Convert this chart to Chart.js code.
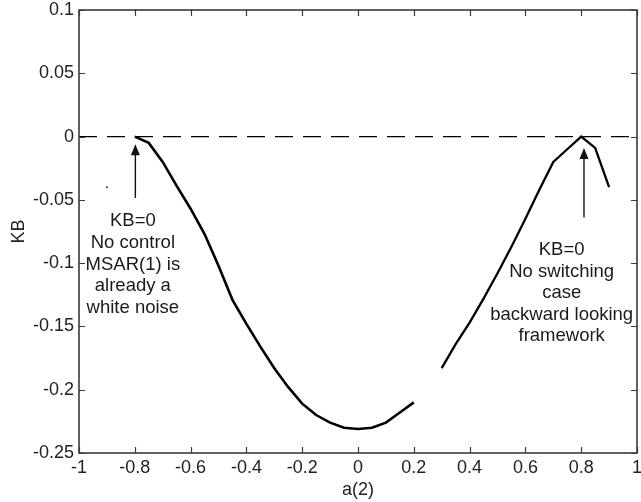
<!DOCTYPE html>
<html>
<head>
<meta charset="utf-8">
<script src="https://cdn.jsdelivr.net/npm/chart.js@4/dist/chart.umd.min.js"></script>
<style>
  html, body { margin: 0; padding: 0; background: #fff; }
  #wrap { width: 641px; height: 502px; }
</style>
</head>
<body>
<div id="wrap"><canvas id="kb"></canvas></div>
<script>
// KB as a function of a(2), computed on a 0.05 grid (no value between 0.2 and 0.3)
const leftA = [-0.8, -0.75, -0.7, -0.65, -0.6, -0.55, -0.5, -0.45, -0.4, -0.35, -0.3,
  -0.25, -0.2, -0.15, -0.1, -0.05, 0, 0.05, 0.1, 0.15, 0.2];
const leftKB = [0, -0.005, -0.020, -0.039, -0.057, -0.077, -0.102, -0.129, -0.148, -0.166, -0.183,
  -0.198, -0.211, -0.220, -0.226, -0.230, -0.231, -0.230, -0.226, -0.218, -0.210];
const rightA = [0.3, 0.35, 0.4, 0.45, 0.5, 0.55, 0.6, 0.65, 0.7, 0.75, 0.8, 0.85, 0.9];
const rightKB = [-0.183, -0.164, -0.147, -0.128, -0.108, -0.087, -0.065, -0.042, -0.020, -0.010, 0, -0.009, -0.040];
const strayA = [-0.9];
const strayKB = [-0.040];

const xTicks = [-1, -0.8, -0.6, -0.4, -0.2, 0, 0.2, 0.4, 0.6, 0.8, 1];
const yTicks = [0.1, 0.05, 0, -0.05, -0.1, -0.15, -0.2, -0.25];

const noteLeft = ['KB=0', 'No control', 'MSAR(1) is', 'already a', 'white noise'];
const noteRight = ['KB=0', 'No switching', 'case', 'backward looking', 'framework'];

const FONT = "'Liberation Sans', Arial, sans-serif";
const pts = (xs, ys) => xs.map((x, i) => ({x, y: ys[i]}));

// boxed axes with inward ticks, arrows and the two notes
const decor = {
  id: 'decor',
  afterDatasetsDraw(chart) {
    const {ctx, chartArea: a, scales: {x, y}} = chart;
    ctx.save();
    ctx.strokeStyle = '#3a3a3a';
    ctx.lineWidth = 1.6;
    ctx.strokeRect(a.left, a.top, a.right - a.left, a.bottom - a.top);
    ctx.lineWidth = 1.2;
    ctx.beginPath();
    xTicks.forEach(v => {
      const px = Math.round(x.getPixelForValue(v)) + 0.5;
      ctx.moveTo(px, a.bottom); ctx.lineTo(px, a.bottom - 6);
      ctx.moveTo(px, a.top); ctx.lineTo(px, a.top + 6);
    });
    yTicks.forEach(v => {
      const py = Math.round(y.getPixelForValue(v)) + 0.5;
      ctx.moveTo(a.left, py); ctx.lineTo(a.left + 6, py);
      ctx.moveTo(a.right, py); ctx.lineTo(a.right - 6, py);
    });
    ctx.stroke();

    const arrow = (xv, fromY, toY) => {
      const px = x.getPixelForValue(xv);
      const p0 = y.getPixelForValue(fromY), p1 = y.getPixelForValue(toY);
      ctx.strokeStyle = '#111';
      ctx.fillStyle = '#111';
      ctx.lineWidth = 1.4;
      ctx.beginPath();
      ctx.moveTo(px, p0); ctx.lineTo(px, p1 + 8);
      ctx.stroke();
      ctx.beginPath();
      ctx.moveTo(px, p1); ctx.lineTo(px - 4.5, p1 + 11); ctx.lineTo(px + 4.5, p1 + 11);
      ctx.closePath();
      ctx.fill();
    };
    arrow(-0.798, -0.0485, -0.006);
    arrow(0.81, -0.064, -0.009);

    const note = (lines, xv, yv) => {
      ctx.fillStyle = '#1a1a1a';
      ctx.font = '18.5px ' + FONT;
      ctx.textAlign = 'center';
      ctx.textBaseline = 'middle';
      const px = x.getPixelForValue(xv);
      const py = y.getPixelForValue(yv);
      lines.forEach((t, i) => ctx.fillText(t, px, py + i * 21.6));
    };
    note(noteLeft, -0.807, -0.067);
    note(noteRight, 0.73, -0.0895);
    ctx.restore();
  }
};

new Chart(document.getElementById('kb'), {
  type: 'scatter',
  data: {
    datasets: [
      {data: pts([-1, 1], [0, 0]), showLine: true, borderColor: '#000', borderWidth: 1.3,
        borderDash: [18, 10], pointRadius: 0},
      {data: pts(leftA, leftKB), showLine: true, borderColor: '#000', borderWidth: 2.6,
        pointRadius: 0, tension: 0},
      {data: pts(rightA, rightKB), showLine: true, borderColor: '#000', borderWidth: 2.3,
        pointRadius: 0, tension: 0},
      {data: pts(strayA, strayKB), showLine: false, pointRadius: 1, borderWidth: 0,
        backgroundColor: '#333'}
    ]
  },
  options: {
    responsive: true,
    maintainAspectRatio: false,
    animation: false,
    layout: {padding: {top: 10, right: 4, left: 0, bottom: 0}},
    plugins: {legend: {display: false}, tooltip: {enabled: false}},
    scales: {
      x: {
        type: 'linear', min: -1, max: 1,
        afterBuildTicks: s => { s.ticks = xTicks.map(v => ({value: v})); },
        grid: {display: false, drawTicks: false},
        border: {display: false},
        ticks: {color: '#222', font: {family: FONT, size: 18}, padding: 4, maxRotation: 0,
          autoSkip: false, callback: v => String(v)},
        title: {display: true, text: 'a(2)', color: '#222', font: {family: FONT, size: 18},
          padding: {top: 0, bottom: 1}},
        afterFit: s => { s.height = 49; s.paddingLeft = 0; s.paddingRight = 0; }
      },
      y: {
        type: 'linear', min: -0.25, max: 0.1,
        afterBuildTicks: s => { s.ticks = yTicks.map(v => ({value: v})); },
        grid: {display: false, drawTicks: false},
        border: {display: false},
        ticks: {color: '#222', font: {family: FONT, size: 18}, padding: 5,
          autoSkip: false, callback: v => String(v)},
        title: {display: true, text: 'KB', color: '#222', font: {family: FONT, size: 18},
          padding: {top: 8, bottom: 0}},
        afterFit: s => { s.width = 79; s.paddingTop = 0; s.paddingBottom = 0; }
      }
    }
  },
  plugins: [decor]
});
</script>
</body>
</html>
